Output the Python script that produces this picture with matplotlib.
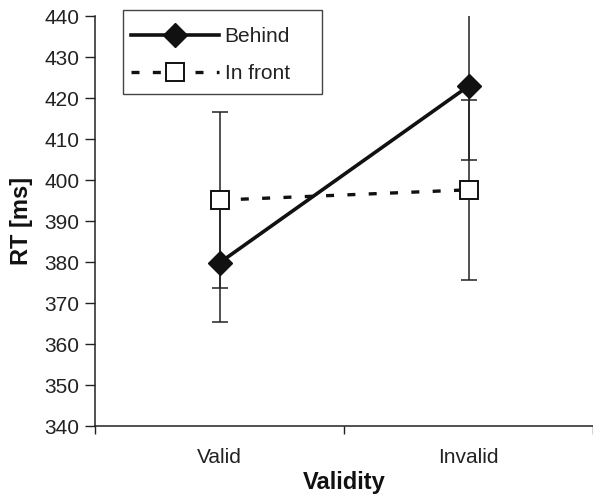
import matplotlib
matplotlib.use("Agg")
import matplotlib.pyplot as plt
from matplotlib.patches import Rectangle
import numpy as np

plt.rcParams['font.family'] = ['Liberation Sans', 'DejaVu Sans']

categories = ["Valid", "Invalid"]
behind = [379.8, 422.9]
behind_err = [14.4, 17.9]
infront = [395.1, 397.6]
infront_err = [21.4, 21.9]

x = np.array([0.5, 1.5])

W, H = 593, 497
fig = plt.figure(figsize=(W/100, H/100), dpi=100)
ax = fig.add_axes([95/W, 71/H, 1 - 95/W, (426-16)/H])

ax.errorbar(x, behind, yerr=behind_err, fmt='none', ecolor='#222222', elinewidth=1.1,
            capsize=6, capthick=1.1, zorder=1)
ax.errorbar(x, infront, yerr=infront_err, fmt='none', ecolor='#222222', elinewidth=1.1,
            capsize=6, capthick=1.1, zorder=1)

ax.plot(x, infront, color='#111111', lw=2.4, linestyle=(0, (2.4, 4.0)),
        marker='s', markersize=13, markerfacecolor='white', markeredgecolor='#111111',
        markeredgewidth=1.4, label='In front', zorder=3)
ax.plot(x, behind, color='#111111', lw=2.6, linestyle='-',
        marker='D', markersize=12, markerfacecolor='#111111', markeredgecolor='#111111',
        label='Behind', zorder=4)

ax.set_xlim(0, 1.96)
ax.set_ylim(340, 440)
ax.set_yticks(np.arange(340, 441, 10))
ax.set_xticks([0, 1, 2])
ax.set_xticklabels([])
ax.set_xticks(x, minor=True)
ax.set_xticklabels(categories, minor=True)
ax.tick_params(axis='x', which='minor', length=0, pad=16, labelsize=15, colors='#222222')
ax.tick_params(axis='x', which='major', length=6, width=1, direction='out', color='#222222')
ax.tick_params(axis='y', length=7, width=1, direction='out', labelsize=15,
               colors='#222222', pad=4)

for s in ['top', 'right']:
    ax.spines[s].set_visible(False)
for s in ['left', 'bottom']:
    ax.spines[s].set_linewidth(1.1)
    ax.spines[s].set_color('#222222')

ax.set_ylabel('RT [ms]', fontsize=17, fontweight='bold', labelpad=8, color='#111111')
ax.set_xlabel('Validity', fontsize=17, fontweight='bold', labelpad=3, color='#111111')

# legend frame
fig.patches.append(Rectangle((123/W, 1 - 94/H), (322-123)/W, (94-10)/H,
                             transform=fig.transFigure, facecolor='white',
                             edgecolor='#444444', linewidth=1.0, zorder=5))

handles, labels = ax.get_legend_handles_labels()
order = [1, 0]
leg = fig.legend([handles[i] for i in order], [labels[i] for i in order],
                 loc='center left', bbox_to_anchor=(131/W, 1 - 55/H),
                 bbox_transform=fig.transFigure, borderaxespad=0, borderpad=0,
                 fontsize=15, handlelength=4.2, handletextpad=0.3,
                 labelspacing=0.85, frameon=False)
leg.set_zorder(6)
for t in leg.get_texts():
    t.set_color('#222222')

fig.savefig('out.png', dpi=100)
